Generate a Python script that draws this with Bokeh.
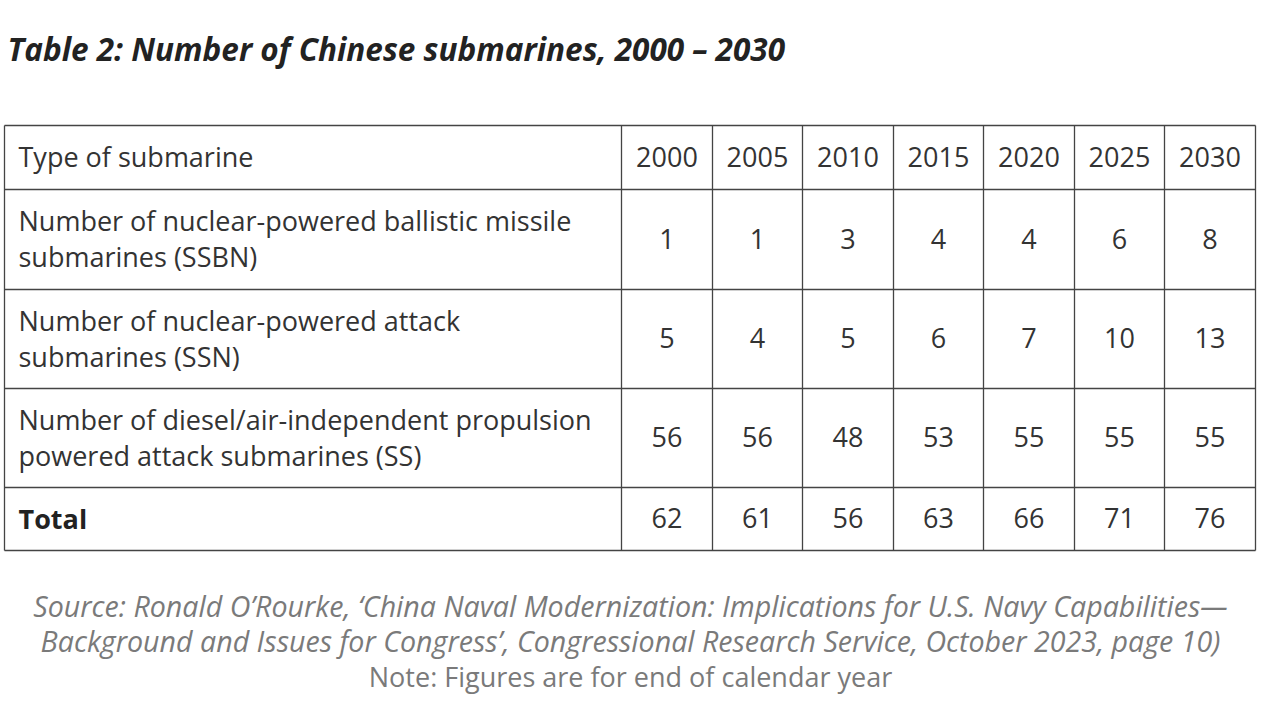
from bokeh.plotting import figure
from bokeh.models import Range1d
from bokeh.core.properties import value
from bokeh.embed import file_html
from bokeh.resources import INLINE

# ---- data ----
title = "Table 2: Number of Chinese submarines, 2000 \u2013 2030"
header_label = "Type of submarine"
years = ["2000", "2005", "2010", "2015", "2020", "2025", "2030"]
row_labels = [
    ["Number of nuclear-powered ballistic missile", "submarines (SSBN)"],
    ["Number of nuclear-powered attack", "submarines (SSN)"],
    ["Number of diesel/air-independent propulsion", "powered attack submarines (SS)"],
]
ssbn = [1, 1, 3, 4, 4, 6, 8]
ssn = [5, 4, 5, 6, 7, 10, 13]
ss = [56, 56, 48, 53, 55, 55, 55]
total_label = "Total"
total = [62, 61, 56, 63, 66, 71, 76]
footer_lines = [
    "Source: Ronald O\u2019Rourke, \u2018China Naval Modernization: Implications for U.S. Navy Capabilities\u2014",
    "Background and Issues for Congress\u2019, Congressional Research Service, October 2023, page 10)",
    "Note: Figures are for end of calendar year",
]

# ---- layout ----
W, H = 1264, 704
FONT = "Open Sans"
col_edges = [4, 621, 712, 802, 893, 983, 1074, 1164, 1255]
row_edges = [125, 189, 289, 388, 487, 550]
line_gap = 18
text_dy = -1
fs = "27px"
text_color = "#333333"
border_color = "#444444"

p = figure(width=W, height=H, output_backend="svg", toolbar_location=None,
           x_range=Range1d(0, W), y_range=Range1d(H, 0),
           min_border=0)
p.axis.visible = False
p.grid.visible = False
p.outline_line_color = None
p.background_fill_color = "white"
p.border_fill_color = "white"

# borders
x0s, y0s, x1s, y1s = [], [], [], []
for y in row_edges:
    x0s.append(col_edges[0]); x1s.append(col_edges[-1]); y0s.append(y); y1s.append(y)
for x in col_edges:
    x0s.append(x); x1s.append(x); y0s.append(row_edges[0]); y1s.append(row_edges[-1])
p.segment(x0=x0s, y0=y0s, x1=x1s, y1=y1s, line_color=border_color, line_width=1.3)

# title
p.text(x=[7], y=[48], text=[title], text_font=value(FONT), text_font_size="31.5px",
       text_font_style="bold italic", text_color="#222222",
       text_align="left", text_baseline="middle")

def row_center(i):
    return (row_edges[i] + row_edges[i + 1]) / 2 + text_dy

col_centers = [(col_edges[j] + col_edges[j + 1]) / 2 for j in range(1, len(col_edges) - 1)]
label_x = 18

# header
p.text(x=[label_x], y=[row_center(0)], text=[header_label], text_font=value(FONT),
       text_font_size=fs, text_color=text_color, text_align="left", text_baseline="middle")
p.text(x=col_centers, y=[row_center(0)] * len(years), text=years, text_font=value(FONT),
       text_font_size=fs, text_color=text_color, text_align="center", text_baseline="middle")

# body rows
for i, (labels, vals) in enumerate(zip(row_labels, [ssbn, ssn, ss]), start=1):
    c = row_center(i)
    p.text(x=[label_x, label_x], y=[c - line_gap, c + line_gap], text=labels,
           text_font=value(FONT), text_font_size=fs, text_color=text_color,
           text_align="left", text_baseline="middle")
    p.text(x=col_centers, y=[c] * len(vals), text=[str(v) for v in vals],
           text_font=value(FONT), text_font_size=fs, text_color=text_color,
           text_align="center", text_baseline="middle")

# total row
c = row_center(4)
p.text(x=[label_x], y=[c], text=[total_label], text_font=value(FONT), text_font_size=fs,
       text_font_style="bold", text_color="#222222", text_align="left", text_baseline="middle")
p.text(x=col_centers, y=[c] * len(total), text=[str(v) for v in total],
       text_font=value(FONT), text_font_size=fs, text_color=text_color,
       text_align="center", text_baseline="middle")

# footer
p.text(x=[630, 630], y=[605, 640], text=footer_lines[:2], text_font=value(FONT),
       text_font_size="28.6px", text_font_style="italic", text_color="#7a7a7a",
       text_align="center", text_baseline="middle")
p.text(x=[630], y=[676], text=footer_lines[2:], text_font=value(FONT),
       text_font_size="27px", text_color="#7a7a7a",
       text_align="center", text_baseline="middle")

open("out.html", "w").write(file_html(p, INLINE))
